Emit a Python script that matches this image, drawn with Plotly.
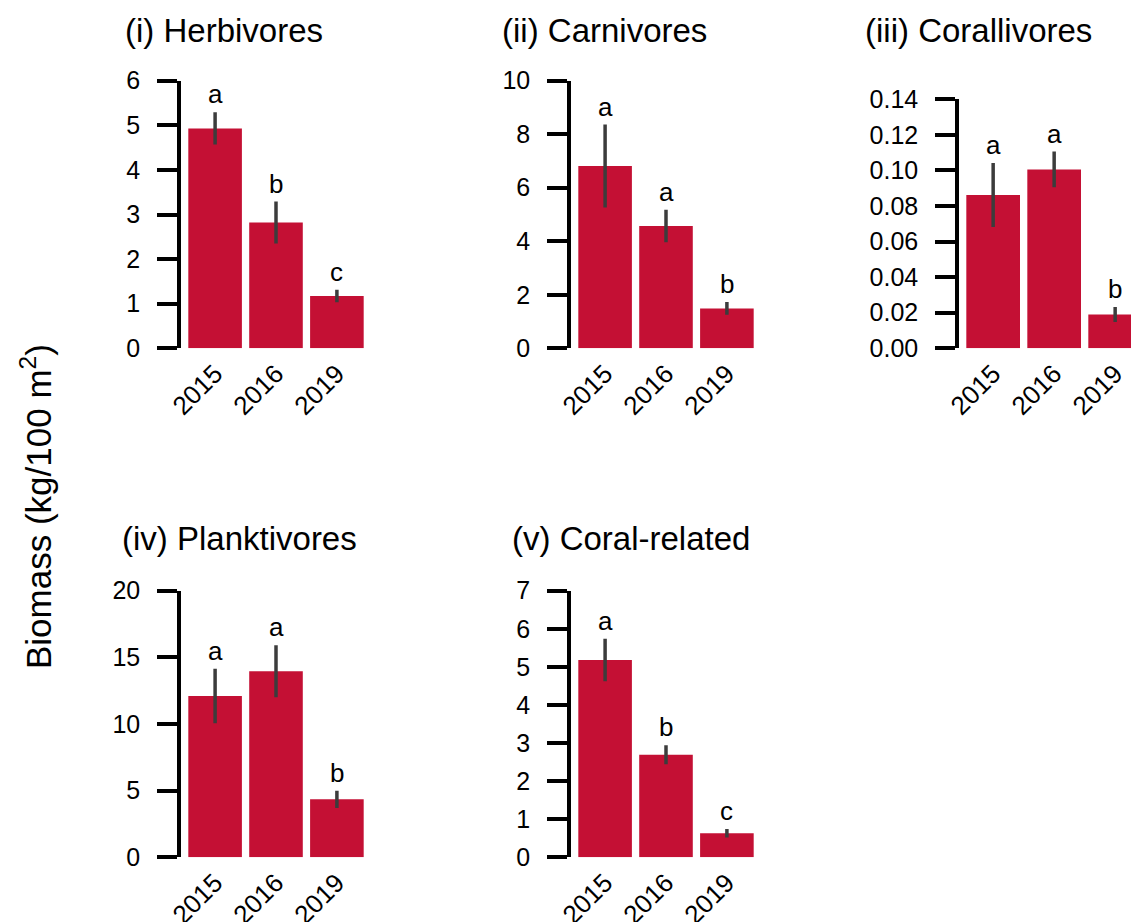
import plotly.graph_objects as go

W, H = 1139, 922
OFF = 8  # page body margin of the browser

years = ["2015", "2016", "2019"]

titles = ["(i) Herbivores", "(ii) Carnivores", "(iii) Corallivores",
          "(iv) Planktivores", "(v) Coral-related"]

herbivores = [4.93, 2.82, 1.17]
herbivores_se = [0.36, 0.47, 0.14]
carnivores = [6.81, 4.57, 1.49]
carnivores_se = [1.55, 0.61, 0.24]
corallivores = [0.0862, 0.1006, 0.0190]
corallivores_se = [0.0180, 0.0100, 0.0042]
planktivores = [12.1, 13.95, 4.35]
planktivores_se = [2.05, 1.95, 0.65]
coral_related = [5.18, 2.69, 0.63]
coral_related_se = [0.56, 0.25, 0.11]

letters_herb = ["a", "b", "c"]
letters_carn = ["a", "a", "b"]
letters_cora = ["a", "a", "b"]
letters_plank = ["a", "a", "b"]
letters_coral = ["a", "b", "c"]

yticks_herb = [0, 1, 2, 3, 4, 5, 6]
yticks_carn = [0, 2, 4, 6, 8, 10]
yticks_cora = [0, 0.02, 0.04, 0.06, 0.08, 0.10, 0.12, 0.14]
yticks_plank = [0, 5, 10, 15, 20]
yticks_coral = [0, 1, 2, 3, 4, 5, 6, 7]

BAR = "#C41034"
ERR = "#3C3C3C"
FONT = "Liberation Sans, Arial, sans-serif"


def fx(px):
    return (px - OFF) / W


def fy(py):
    return 1 - (py - OFF) / H


panels = [
    dict(v=herbivores, e=herbivores_se, l=letters_herb, t=yticks_herb, fmt=None,
         x0=181, x1=371, ytop=80.7, ybot=348.3, xr=[-0.56, 2.56]),
    dict(v=carnivores, e=carnivores_se, l=letters_carn, t=yticks_carn, fmt=None,
         x0=571, x1=761, ytop=80.7, ybot=348.3, xr=[-0.56, 2.56]),
    dict(v=corallivores, e=corallivores_se, l=letters_cora, t=yticks_cora, fmt="%.2f",
         x0=959, x1=1139, ytop=99.3, ybot=348.3, xr=[-0.56, -0.56 + (1139 - 959) / 61.0]),
    dict(v=planktivores, e=planktivores_se, l=letters_plank, t=yticks_plank, fmt=None,
         x0=181, x1=371, ytop=590.7, ybot=857.3, xr=[-0.56, 2.56]),
    dict(v=coral_related, e=coral_related_se, l=letters_coral, t=yticks_coral, fmt=None,
         x0=571, x1=761, ytop=590.7, ybot=857.3, xr=[-0.56, 2.56]),
]

title_pos = [(123, 30), (500, 30), (863, 30), (120, 538), (510, 538)]

fig = go.Figure()
annotations = []
layout = {}

for i, p in enumerate(panels):
    n = i + 1
    xa = "x" if n == 1 else f"x{n}"
    ya = "y" if n == 1 else f"y{n}"
    fig.add_trace(go.Bar(
        x=years, y=p["v"], xaxis=xa, yaxis=ya,
        marker=dict(color=BAR, line=dict(width=0)),
        width=0.88,
        error_y=dict(type="data", array=p["e"], visible=True,
                     color=ERR, thickness=3.5, width=0),
        showlegend=False,
    ))
    xkey = "xaxis" if n == 1 else f"xaxis{n}"
    ykey = "yaxis" if n == 1 else f"yaxis{n}"
    layout[xkey] = dict(
        domain=[fx(p["x0"]), min(fx(p["x1"]), 1.0)],
        anchor=ya, type="category", range=p["xr"], automargin=False,
        showline=False, ticks="", showgrid=False, zeroline=False,
        tickangle=-45, tickfont=dict(size=26, color="black", family=FONT),
        ticklabelstandoff=4,
    )
    if p["fmt"]:
        ttext = [p["fmt"] % t for t in p["t"]]
    else:
        ttext = [str(t) for t in p["t"]]
    layout[ykey] = dict(
        domain=[fy(p["ybot"]), fy(p["ytop"])],
        anchor=xa, range=[p["t"][0], p["t"][-1]], automargin=False,
        tickvals=p["t"], ticktext=ttext,
        showline=True, linecolor="black", linewidth=3.5,
        ticks="outside", ticklen=20, tickwidth=3.5, tickcolor="black",
        showgrid=False, zeroline=False,
        tickfont=dict(size=25, color="black", family=FONT),
        ticklabelstandoff=12,
    )
    for j, yr in enumerate(years):
        annotations.append(dict(
            x=j, y=p["v"][j] + p["e"][j], xref=xa, yref=ya,
            text=p["l"][j], showarrow=False, yanchor="bottom", yshift=1,
            font=dict(size=26, color="black", family=FONT),
        ))
    tx, ty = title_pos[i]
    annotations.append(dict(
        x=fx(tx), y=fy(ty), xref="paper", yref="paper",
        text=titles[i], showarrow=False, xanchor="left", yanchor="middle",
        font=dict(size=33, color="black", family=FONT),
    ))

annotations.append(dict(
    x=fx(36), y=fy(507), xref="paper", yref="paper",
    text="Biomass (kg/100 m<sup>2</sup>)", showarrow=False, textangle=-90,
    xanchor="center", yanchor="middle",
    font=dict(size=35, color="black", family=FONT),
))

fig.update_layout(
    width=W, height=H,
    margin=dict(l=0, r=0, t=0, b=0, autoexpand=False),
    paper_bgcolor="white", plot_bgcolor="white",
    annotations=annotations,
    bargap=0.12,
    **layout,
)

fig.write_html("out.html", config={"displayModeBar": False})
